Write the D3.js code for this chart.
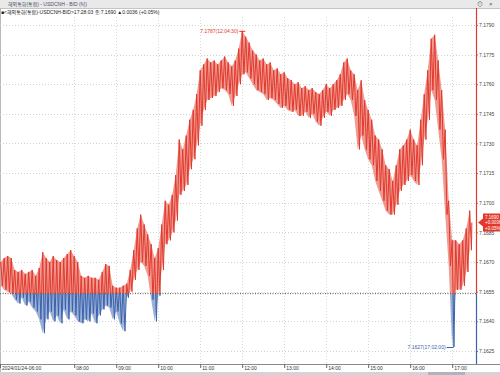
<!DOCTYPE html>
<html>
<head>
<meta charset="utf-8">
<script src="https://cdn.jsdelivr.net/npm/d3@7"></script>
<style>
  body { margin: 0; background: #fff; }
  svg { display: block; font-family: "Liberation Sans", "Noto Sans CJK KR", sans-serif; }
</style>
</head>
<body>
<div id="chart"></div>
<script>
// bid ticks of USDCNH on 2024/01/24, read as high / low of each 5 minute bucket from 06:15
const bucketStart = [6, 15];
const bucketMinutes = 5;
const highs = [
  7.1670, 7.1672, 7.1673, 7.1672, 7.1666, 7.1665, 7.1666, 7.1664, 7.1665, 7.1666,
  7.1663, 7.1667, 7.1675, 7.1672, 7.1670, 7.1673, 7.1671, 7.1670, 7.1672, 7.1674,
  7.1676, 7.1673, 7.1670, 7.1663, 7.1662, 7.1663, 7.1662, 7.1662, 7.1661, 7.1665,
  7.1669, 7.1668, 7.1658, 7.1657, 7.1657, 7.1658, 7.1659, 7.1666, 7.1676, 7.1687,
  7.1694, 7.1689, 7.1684, 7.1679, 7.1672, 7.1677, 7.1689, 7.1701, 7.1699, 7.1704,
  7.1714, 7.1732, 7.1727, 7.1734, 7.1742, 7.1747, 7.1755, 7.1767, 7.1770, 7.1773,
  7.1771, 7.1772, 7.1770, 7.1772, 7.1774, 7.1771, 7.1769, 7.1772, 7.1778, 7.1787,
  7.1784, 7.1781, 7.1777, 7.1775, 7.1772, 7.1773, 7.1770, 7.1771, 7.1767, 7.1768,
  7.1765, 7.1766, 7.1763, 7.1762, 7.1760, 7.1761, 7.1758, 7.1759, 7.1757, 7.1758,
  7.1756, 7.1755, 7.1757, 7.1760, 7.1758, 7.1760, 7.1762, 7.1765, 7.1771, 7.1773,
  7.1767, 7.1765, 7.1757, 7.1762, 7.1752, 7.1747, 7.1742, 7.1734, 7.1732, 7.1727,
  7.1719, 7.1717, 7.1711, 7.1719, 7.1727, 7.1729, 7.1732, 7.1737, 7.1732, 7.1729,
  7.1742, 7.1755, 7.1767, 7.1783, 7.1785, 7.1772, 7.1757, 7.1737, 7.1701, 7.1681,
  7.1681, 7.1679, 7.1681, 7.1687, 7.1696
];
const lows = [
  7.1658, 7.1656, 7.1655, 7.1654, 7.1651, 7.1649, 7.1652, 7.1648, 7.1650, 7.1647,
  7.1645, 7.1641, 7.1634, 7.1641, 7.1645, 7.1640, 7.1643, 7.1639, 7.1646, 7.1641,
  7.1645, 7.1643, 7.1640, 7.1639, 7.1641, 7.1640, 7.1644, 7.1639, 7.1643, 7.1646,
  7.1648, 7.1647, 7.1641, 7.1645, 7.1639, 7.1635, 7.1652, 7.1655, 7.1661, 7.1666,
  7.1670, 7.1668, 7.1663, 7.1651, 7.1640, 7.1653, 7.1666, 7.1679, 7.1681, 7.1685,
  7.1691, 7.1704, 7.1706, 7.1709, 7.1717, 7.1722, 7.1729, 7.1739, 7.1747, 7.1752,
  7.1753, 7.1754, 7.1756, 7.1758, 7.1757, 7.1755, 7.1749, 7.1754, 7.1760, 7.1765,
  7.1766, 7.1763, 7.1760, 7.1757, 7.1756, 7.1755, 7.1752, 7.1753, 7.1752, 7.1750,
  7.1748, 7.1749, 7.1747, 7.1746, 7.1747, 7.1744, 7.1744, 7.1746, 7.1743, 7.1745,
  7.1741, 7.1739, 7.1743, 7.1746, 7.1744, 7.1747, 7.1748, 7.1749, 7.1752, 7.1755,
  7.1752, 7.1744, 7.1727, 7.1734, 7.1727, 7.1722, 7.1719, 7.1711, 7.1706, 7.1701,
  7.1696, 7.1694, 7.1694, 7.1699, 7.1706, 7.1709, 7.1711, 7.1714, 7.1711, 7.1709,
  7.1719, 7.1732, 7.1742, 7.1757, 7.1752, 7.1737, 7.1722, 7.1694, 7.1668, 7.1627,
  7.1656, 7.1656, 7.1658, 7.1665, 7.1676
];
const lastTick = [17, 28, 3];
const lastPrice = 7.1690;
const prevClose = 7.1654;
const priceTicks = [7.1625, 7.1640, 7.1655, 7.1670, 7.1685, 7.1700, 7.1715, 7.1730, 7.1745, 7.1760, 7.1775, 7.1790];
const hourTicks = [[6, 14], [8, 0], [9, 0], [10, 0], [11, 0], [12, 0], [13, 0], [14, 0], [15, 0], [16, 0], [17, 0]];
const hourLabels = ["2024/01/24-06:00", "08:00", "09:00", "10:00", "11:00", "12:00", "13:00", "14:00", "15:00", "16:00", "17:00"];
const highMark = [[12, 4, 30], 7.1787, "7.1787(12:04:30)"];
const lowMark = [[17, 2, 0], 7.1627, "7.1627(17:02:00)"];
const boxLines = ["7.1690", "+0.0036", "+0.05%"];

const red = "#e2392b";
const blue = "#3a62ad";
const W = 500, H = 375;
const plot = { left: 0, right: 476, top: 8, bottom: 364 };

const at = function (h, m, s) { return new Date(2024, 0, 24, h, m, s || 0); };

const svg = d3.select("#chart").append("svg").attr("width", W).attr("height", H);

const x = d3.scaleTime().domain([at(6, 14), at(17, 34)]).range([plot.left, plot.right]);
const y = d3.scaleLinear().domain([7.16184, 7.17940]).range([plot.bottom, 17]);

// one record per bucket, plus a zig-zag through every high and low for the tick texture
let buckets = [];
let points = [];
highs.forEach(function (h, i) {
  const t0 = at(bucketStart[0], bucketStart[1] + i * bucketMinutes);
  const t1 = at(bucketStart[0], bucketStart[1] + i * bucketMinutes, bucketMinutes * 30);
  buckets.push({ t: t0, t1: t1, hi: h, lo: lows[i] });
  points.push({ t: t0, v: h });
  points.push({ t: t1, v: lows[i] });
});
points.push({ t: at(lastTick[0], lastTick[1], lastTick[2]), v: lastPrice });

// header
svg.append("rect").attr("x", 0).attr("y", 0).attr("width", W).attr("height", 8).attr("fill", "#e9e9ea");
svg.append("line").attr("x1", 0).attr("x2", W).attr("y1", 8.5).attr("y2", 8.5).attr("stroke", "#c4c4c8");
svg.append("text").attr("x", 8).attr("y", 6).attr("font-size", 5).attr("fill", "#4a4f66")
  .text("해외통화(통합) - USDCNH - BID (틱)");
svg.append("text").attr("x", 477).attr("y", 6.2).attr("font-size", 6).attr("fill", "#555").text("⊙");
svg.append("text").attr("x", 489).attr("y", 6.2).attr("font-size", 6).attr("fill", "#555").text("×");
svg.append("text").attr("x", 1).attr("y", 14).attr("font-size", 5).attr("fill", "#222")
  .text("■<해외통화(통합)-USDCNH-BID>17:28:03 종:7.1690 ▲0.0036 (+0.05%)");
svg.append("line").attr("x1", 0.5).attr("x2", 0.5).attr("y1", 8).attr("y2", 372).attr("stroke", "#b9b9bd");

// grid
svg.append("g").selectAll("line").data(priceTicks).enter().append("line")
  .attr("x1", plot.left).attr("x2", plot.right)
  .attr("y1", function (d) { return Math.round(y(d)) + 0.5; })
  .attr("y2", function (d) { return Math.round(y(d)) + 0.5; })
  .attr("stroke", "#d0d0d0").attr("stroke-dasharray", "1,2");
svg.append("g").selectAll("line").data(hourTicks.slice(1)).enter().append("line")
  .attr("x1", function (d) { return Math.round(x(at(d[0], d[1]))) + 0.5; })
  .attr("x2", function (d) { return Math.round(x(at(d[0], d[1]))) + 0.5; })
  .attr("y1", 17).attr("y2", plot.bottom)
  .attr("stroke", "#d8d8d8").attr("stroke-dasharray", "1,2");

// price, red above the previous close and blue below it
const yBase = y(prevClose);
const defs = svg.append("defs");
defs.append("clipPath").attr("id", "above").append("rect")
  .attr("x", plot.left).attr("y", 0).attr("width", plot.right - plot.left).attr("height", yBase);
defs.append("clipPath").attr("id", "below").append("rect")
  .attr("x", plot.left).attr("y", yBase).attr("width", plot.right - plot.left).attr("height", H - yBase);

const band = d3.area()
  .x(function (d) { return x(d.t); })
  .y0(function (d) { return y(d.lo); })
  .y1(function (d) { return y(d.hi); });

const line = d3.line()
  .x(function (d) { return x(d.t); })
  .y(function (d) { return y(d.v); });

[["above", red], ["below", blue]].forEach(function (c) {
  const g = svg.append("g").attr("clip-path", "url(#" + c[0] + ")");
  g.append("path").datum(buckets).attr("d", band).attr("fill", c[1]).attr("fill-opacity", 0.5);
  g.append("path").datum(points).attr("d", line).attr("fill", "none")
    .attr("stroke", c[1]).attr("stroke-width", 1);
});

svg.append("line").attr("x1", plot.left).attr("x2", plot.right)
  .attr("y1", yBase).attr("y2", yBase)
  .attr("stroke", "#555").attr("stroke-dasharray", "1,1.5");

// high / low markers
const markHigh = svg.append("g");
markHigh.append("line")
  .attr("x1", x(at(highMark[0][0], highMark[0][1], highMark[0][2])) - 6)
  .attr("x2", x(at(highMark[0][0], highMark[0][1], highMark[0][2])))
  .attr("y1", y(highMark[1]) + 0.5).attr("y2", y(highMark[1]) + 0.5)
  .attr("stroke", red);
markHigh.append("text")
  .attr("x", x(at(highMark[0][0], highMark[0][1], highMark[0][2])) - 7)
  .attr("y", y(highMark[1]) + 2).attr("text-anchor", "end")
  .attr("font-size", 5).attr("fill", red).text(highMark[2]);

const markLow = svg.append("g");
markLow.append("line")
  .attr("x1", x(at(lowMark[0][0], lowMark[0][1], lowMark[0][2])) - 7)
  .attr("x2", x(at(lowMark[0][0], lowMark[0][1], lowMark[0][2])))
  .attr("y1", y(lowMark[1]) + 0.5).attr("y2", y(lowMark[1]) + 0.5)
  .attr("stroke", blue);
markLow.append("text")
  .attr("x", x(at(lowMark[0][0], lowMark[0][1], lowMark[0][2])) - 8)
  .attr("y", y(lowMark[1]) + 2).attr("text-anchor", "end")
  .attr("font-size", 5).attr("fill", blue).text(lowMark[2]);

// right price axis
const yAxis = svg.append("g").attr("transform", "translate(" + plot.right + ",0)")
  .call(d3.axisRight(y).tickValues(priceTicks).tickFormat(d3.format(".4f")).tickSize(2).tickPadding(1));
yAxis.select(".domain").remove();
yAxis.selectAll("text").attr("font-size", 5).attr("fill", "#444").attr("font-family", "Liberation Sans");
yAxis.selectAll("line").attr("stroke", "#777");

svg.append("line").attr("x1", plot.right + 0.5).attr("x2", plot.right + 0.5)
  .attr("y1", plot.top).attr("y2", yBase).attr("stroke", red).attr("stroke-width", 1.2);
svg.append("line").attr("x1", plot.right + 0.5).attr("x2", plot.right + 0.5)
  .attr("y1", yBase).attr("y2", plot.bottom + 1).attr("stroke", blue).attr("stroke-width", 1.2);

// current price box
const yLast = y(lastPrice);
const box = svg.append("g");
box.append("path")
  .attr("d", "M" + (plot.right + 2) + "," + yLast + "L" + (plot.right + 7) + "," + (yLast - 4) +
    "V" + (yLast - 9) + "H" + W + "V" + (yLast + 9) + "H" + (plot.right + 7) + "V" + (yLast + 4) + "Z")
  .attr("fill", red);
box.selectAll("text").data(boxLines).enter().append("text")
  .attr("x", plot.right + 9)
  .attr("y", function (d, i) { return yLast - 4 + i * 5.5; })
  .attr("font-size", 4.5).attr("fill", "#fff").text(function (d) { return d; });

// bottom time axis
svg.append("line").attr("x1", 0).attr("x2", W).attr("y1", plot.bottom + 0.5).attr("y2", plot.bottom + 0.5)
  .attr("stroke", "#8a8a8a");
const xAxis = svg.append("g").attr("transform", "translate(0," + plot.bottom + ")")
  .call(d3.axisBottom(x)
    .tickValues(hourTicks.map(function (d) { return at(d[0], d[1]); }))
    .tickFormat(function (d, i) { return hourLabels[i]; })
    .tickSize(4));
xAxis.select(".domain").remove();
xAxis.selectAll("line").attr("stroke", "#666");
xAxis.selectAll("text").attr("text-anchor", "start").attr("x", 1.5).attr("y", 2)
  .attr("dy", "0.71em").attr("font-size", 5).attr("fill", "#333").attr("font-family", "Liberation Sans");

// scroll strip
svg.append("rect").attr("x", 0).attr("y", 372).attr("width", W).attr("height", 3).attr("fill", "#d4d4d6");
svg.append("rect").attr("x", 428).attr("y", 372).attr("width", 37).attr("height", 3).attr("fill", "#aeb3c0");
</script>
</body>
</html>
